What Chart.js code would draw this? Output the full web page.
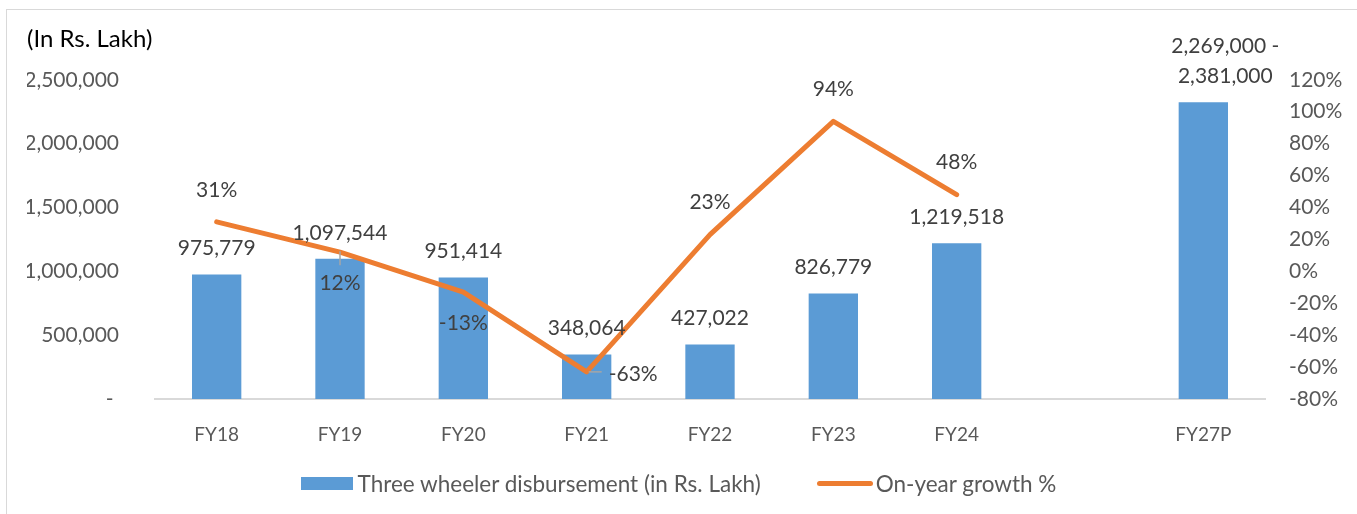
<!DOCTYPE html>
<html>
<head>
<meta charset="utf-8">
<script src="https://cdn.jsdelivr.net/npm/chart.js@4.4.1/dist/chart.umd.min.js"></script>
<style>
  html, body { margin: 0; padding: 0; background: #fff; }
  #wrap { position: relative; width: 1357px; height: 514px; overflow: hidden; }
  #frame { position: absolute; left: 6px; top: 9px; right: -2px; bottom: -2px; border: 1px solid #d9d9d9; }
  canvas { position: absolute; left: 0; top: 0; }
  #legend { position: absolute; left: 0; right: 0; top: 470px; display: flex; justify-content: center;
            font: 22.5px Lato, sans-serif; color: #595959; }
  #legend .item { display: flex; align-items: center; margin: 0 28px; }
  #legend .swatch { width: 52px; height: 13px; margin-right: 5px; }
  #legend .stroke { width: 56px; height: 5px; border-radius: 3px; margin-right: 3px; }
</style>
</head>
<body>
<div id="wrap">
  <div id="frame"></div>
  <canvas id="chart" width="1357" height="514"></canvas>
  <div id="legend"></div>
</div>
<script>
const categories = ['FY18', 'FY19', 'FY20', 'FY21', 'FY22', 'FY23', 'FY24', '', 'FY27P'];
const disbursement = [975779, 1097544, 951414, 348064, 427022, 826779, 1219518, null, 2325000];
const fy27Range = [2269000, 2381000];
const growthPct = [31, 12, -13, -63, 23, 94, 48, null, null];

const BLUE = '#5B9BD5';
const ORANGE = '#ED7D31';
const FONT = 'Lato, sans-serif';

const fmt = v => v.toLocaleString('en-US');

const barText = disbursement.map((v, i) => {
  if (v == null) return null;
  if (categories[i] === 'FY27P') return [fmt(fy27Range[0]) + ' -', fmt(fy27Range[1])];
  return fmt(v);
});

// value labels for bars and the growth line
const valueLabels = {
  id: 'valueLabels',
  afterDatasetsDraw(chart, args, opts) {
    const ctx = chart.ctx;
    ctx.save();
    ctx.font = '21px ' + FONT;
    ctx.fillStyle = '#404040';
    ctx.textBaseline = 'middle';

    ctx.textAlign = 'center';
    chart.getDatasetMeta(0).data.forEach((bar, i) => {
      const t = barText[i];
      if (!t) return;
      const lines = Array.isArray(t) ? t : [t];
      const x = bar.x + (opts.barShift[i] || 0);
      lines.forEach((s, k) => ctx.fillText(s, x, bar.y - 26 - (lines.length - 1 - k) * 30));
    });

    chart.getDatasetMeta(1).data.forEach((pt, i) => {
      const v = growthPct[i];
      if (v == null) return;
      const s = v + '%';
      const where = opts.growthPlace[i];
      if (opts.leader[i]) {
        ctx.save();
        ctx.strokeStyle = '#a6a6a6';
        ctx.lineWidth = 1.5;
        ctx.beginPath();
        if (where === 'right') {
          ctx.moveTo(pt.x + 2, pt.y);
          ctx.lineTo(pt.x + 15, pt.y);
        } else {
          ctx.moveTo(pt.x, pt.y - 1);
          ctx.lineTo(pt.x, pt.y + 13);
        }
        ctx.stroke();
        ctx.restore();
      }
      if (where === 'right') {
        ctx.textAlign = 'left';
        ctx.fillText(s, pt.x + 22, pt.y + 2);
      } else {
        ctx.textAlign = 'center';
        ctx.fillText(s, pt.x, where === 'below' ? pt.y + 31 : pt.y - 32);
      }
    });
    ctx.restore();
  }
};

const chart = new Chart(document.getElementById('chart'), {
  data: {
    labels: categories,
    datasets: [
      {
        type: 'bar',
        label: 'Three wheeler disbursement (in Rs. Lakh)',
        data: disbursement,
        backgroundColor: BLUE,
        yAxisID: 'y',
        categoryPercentage: 1,
        barPercentage: 0.4,
        order: 2,
      },
      {
        type: 'line',
        label: 'On-year growth %',
        data: growthPct,
        borderColor: ORANGE,
        borderWidth: 5,
        borderCapStyle: 'round',
        borderJoinStyle: 'round',
        pointRadius: 0,
        tension: 0,
        yAxisID: 'y1',
        order: 1,
      },
    ],
  },
  plugins: [valueLabels],
  options: {
    responsive: false,
    animation: false,
    layout: { padding: { left: 27, right: 12, top: 0, bottom: 50 } },
    scales: {
      x: {
        grid: { display: false },
        border: { color: '#d9d9d9', width: 2 },
        ticks: { color: '#595959', font: { family: FONT, size: 19 }, padding: 16 },
        afterFit(scale) { scale.height = 65; },
      },
      y: {
        position: 'left',
        min: 0,
        max: 2500000,
        grid: { display: false },
        border: { display: false },
        ticks: {
          stepSize: 500000,
          color: '#595959',
          font: { family: FONT, size: 21 },
          padding: 28,
          callback: v => (v === 0 ? '- ' : fmt(v)),
        },
        afterFit(scale) { scale.width = 128; },
      },
      y1: {
        position: 'right',
        min: -80,
        max: 120,
        grid: { display: false },
        border: { display: false },
        ticks: {
          stepSize: 20,
          color: '#595959',
          font: { family: FONT, size: 21 },
          padding: 16,
          callback: v => v + '%',
        },
        afterFit(scale) { scale.width = 80; },
      },
    },
    plugins: {
      title: {
        display: true,
        text: '(In Rs. Lakh)',
        align: 'start',
        color: '#000',
        font: { family: FONT, size: 24, weight: 'normal', lineHeight: 1.2 },
        padding: { top: 25, bottom: 26 },
      },
      legend: { display: false },
      tooltip: { enabled: false },
      valueLabels: {
        barShift: [0, 0, 0, 0, 0, 0, 0, 0, 22],
        growthPlace: ['above', 'below', 'below', 'right', 'above', 'above', 'above'],
        leader: [false, true, false, true, false, false, false],
      },
    },
  },
});

// legend row under the plot
const legendEl = document.getElementById('legend');
chart.data.datasets.forEach(ds => {
  const item = document.createElement('div');
  item.className = 'item';
  const mark = document.createElement('span');
  mark.className = ds.type === 'line' ? 'stroke' : 'swatch';
  mark.style.background = ds.type === 'line' ? ds.borderColor : ds.backgroundColor;
  const txt = document.createElement('span');
  txt.textContent = ds.label;
  item.append(mark, txt);
  legendEl.appendChild(item);
});
</script>
</body>
</html>
